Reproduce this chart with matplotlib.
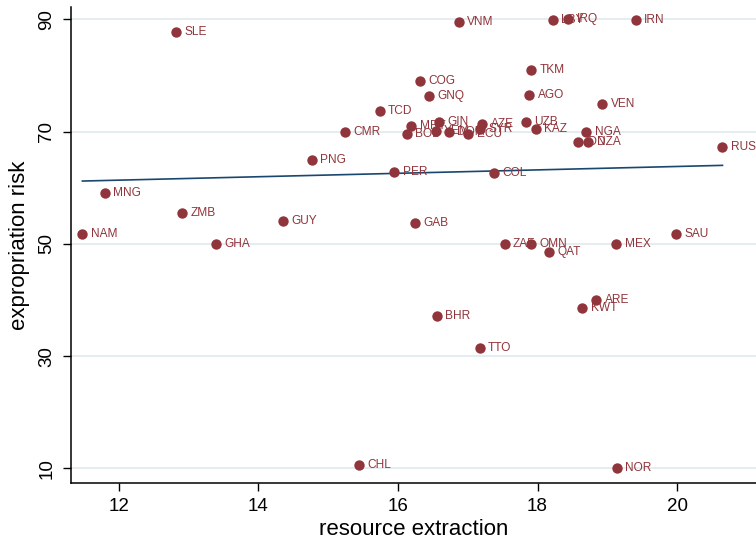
import numpy as np
import matplotlib
matplotlib.use("Agg")
import matplotlib.pyplot as plt

plt.rcParams['font.family'] = ['Liberation Sans', 'DejaVu Sans']

# country codes, resource extraction (x), expropriation risk (y)
codes = ['SLE', 'VNM', 'LBY', 'IRQ', 'IRN', 'TKM', 'COG', 'GNQ', 'AGO', 'VEN',
         'TCD', 'CMR', 'BOL', 'MRT', 'GIN', 'YEM', 'DOM', 'ECU', 'SYR', 'AZE',
         'UZB', 'KAZ', 'NGA', 'IDN', 'DZA', 'RUS', 'PNG', 'PER', 'COL', 'MNG',
         'ZMB', 'GUY', 'NAM', 'GHA', 'GAB', 'SAU', 'ZAF', 'OMN', 'QAT', 'MEX',
         'KWT', 'ARE', 'BHR', 'TTO', 'CHL', 'NOR']
extraction = [12.82, 16.87, 18.22, 18.44, 19.41, 17.91, 16.31, 16.44, 17.88, 18.93,
              15.74, 15.24, 16.13, 16.19, 16.59, 16.54, 16.73, 17.01, 17.18, 17.21,
              17.83, 17.98, 18.70, 18.58, 18.73, 20.65, 14.77, 15.95, 17.38, 11.80,
              12.91, 14.35, 11.48, 13.40, 16.25, 19.98, 17.53, 17.91, 18.17, 19.13,
              18.64, 18.84, 16.56, 17.17, 15.44, 19.14]
risk = [87.7, 89.5, 89.9, 90.0, 89.9, 80.9, 79.1, 76.3, 76.6, 75.0,
        73.7, 70.0, 69.5, 71.0, 71.8, 70.05, 70.0, 69.5, 70.4, 71.4,
        71.8, 70.4, 70.0, 68.15, 68.15, 67.25, 65.0, 62.75, 62.7, 59.1,
        55.5, 54.1, 51.8, 50.0, 53.7, 51.8, 50.0, 50.0, 48.6, 50.0,
        38.6, 40.0, 37.2, 31.4, 10.5, 10.0]

x = np.array(extraction)
y = np.array(risk)
# linear fit
slope, intercept = np.polyfit(x, y, 1)

red = '#90353b'
navy = '#1a476f'

fig = plt.figure(figsize=(7.56, 5.43), dpi=100)
ax = fig.add_axes([0.0935, 0.1105, 0.9065, 0.8765])

for i, (c, xi, yi) in enumerate(zip(codes, extraction, risk)):
    ax.scatter(xi, yi, s=56, color=red, linewidths=0, zorder=3 + 2 * i)
    ax.annotate(c, (xi, yi), xytext=(6, 0), textcoords='offset points',
                va='center', ha='left', fontsize=8.6, color=red, zorder=4 + 2 * i)

xs = np.array([x.min(), x.max()])
ax.plot(xs, intercept + slope * xs, color=navy, lw=1.2, zorder=2)

ax.set_xlim(11.312, 21.13)
ax.set_ylim(7.38, 92.2)
ax.set_xticks([12, 14, 16, 18, 20])
ax.set_yticks([10, 30, 50, 70, 90])
ax.yaxis.grid(True, color='#e4ecf0', lw=1.3)
ax.set_axisbelow(True)
for s in ['top', 'right']:
    ax.spines[s].set_visible(False)
for s in ['left', 'bottom']:
    ax.spines[s].set_linewidth(1.1)
ax.tick_params(axis='both', labelsize=13.5, length=6, width=1.0, pad=5)
plt.setp(ax.get_yticklabels(), rotation=90, va='center')
ax.set_xlabel('resource extraction', fontsize=16, labelpad=3)
ax.set_ylabel('expropriation risk', fontsize=16, labelpad=6)

fig.savefig('out.png', dpi=100)
